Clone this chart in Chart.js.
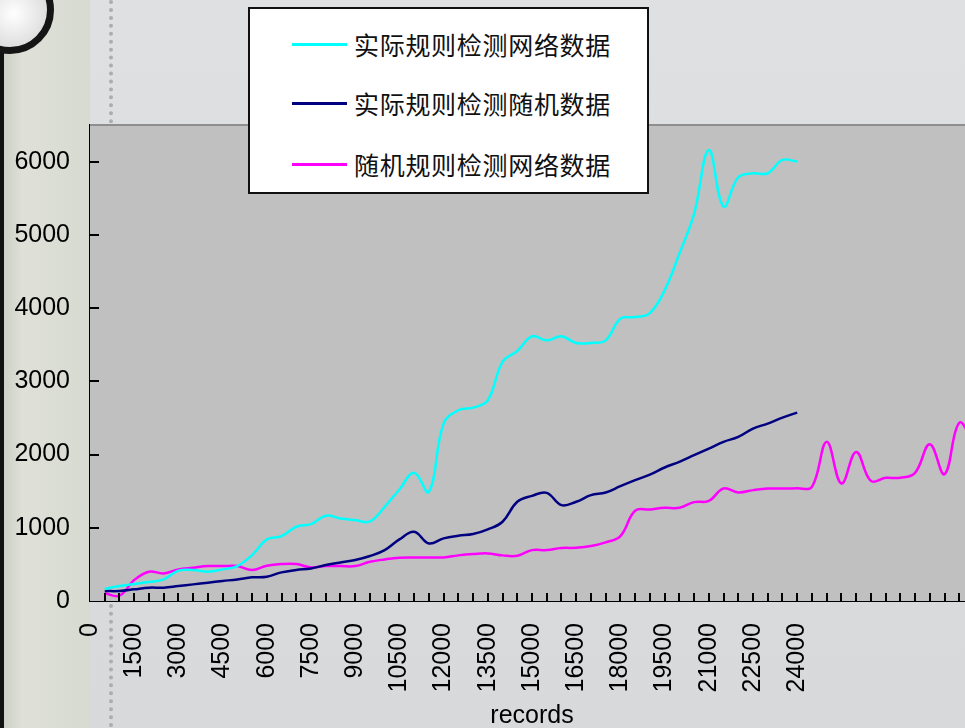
<!DOCTYPE html>
<html>
<head>
<meta charset="utf-8">
<script src="https://cdn.jsdelivr.net/npm/chart.js@4.4.0/dist/chart.umd.min.js"></script>
<style>
  html, body { margin: 0; padding: 0; overflow: hidden; }
  body { width: 965px; height: 728px; position: relative; background: linear-gradient(#dfe0e2, #d8d9db); }
  .strip { position: absolute; left: 0; top: 0; width: 90px; height: 728px;
           background: linear-gradient(90deg, #c9ccc2 0, #dfe1d8 25%, #d7dad1 100%); }
  .edge { position: absolute; left: 0; top: 0; width: 4px; height: 728px; background: #111; }
  .dots { position: absolute; left: 109px; top: 0; height: 728px; border-left: 4px dotted #adadb0; }
  .ring { position: absolute; left: -34px; top: -34px; width: 74px; height: 74px; border-radius: 50%;
          border: 7px solid #151515; background: radial-gradient(circle at 55% 55%, #fff 0, #ddd 60%, #999 100%); }
  #wrap { position: absolute; left: 0; top: 0; width: 976px; height: 728px; }
  #legend { position: absolute; left: 248px; top: 7px; width: 401px; height: 187px; box-sizing: border-box;
            background: #fff; border: 2px solid #111; font-family: "Noto Sans CJK SC", sans-serif; }
  #legend .row { position: absolute; left: 0; height: 30px; }
  #legend .swatch { position: absolute; left: 42px; top: 14px; width: 55px; height: 2.5px; }
  #legend .label { position: absolute; left: 104px; top: 0; line-height: 30px; font-size: 25px;
                   letter-spacing: 0.7px; white-space: nowrap; color: #111; }
</style>
</head>
<body>
<div class="strip"></div>
<div class="edge"></div>
<div class="dots"></div>
<div class="ring"></div>
<div id="wrap"><canvas id="chart" width="976" height="728"></canvas></div>
<div id="legend"></div>
<script>
// x positions (records)
const records = [500, 1000, 1500, 2000, 2500, 3000, 3500, 4000, 4500, 5000,
  5500, 6000, 6500, 7000, 7500, 8000, 8500, 9000, 9500, 10000,
  10500, 11000, 11500, 12000, 12500, 13000, 13500, 14000, 14500, 15000,
  15500, 16000, 16500, 17000, 17500, 18000, 18500, 19000, 19500, 20000,
  20500, 21000, 21500, 22000, 22500, 23000, 23500, 24000, 24500, 25000,
  25500, 26000, 26500, 27000, 27500, 28000, 28500, 29000, 29500, 30000];

const seriesNames = ['实际规则检测网络数据', '实际规则检测随机数据', '随机规则检测网络数据'];
const seriesColors = ['#00ffff', '#000080', '#ff00ff'];

const actualRuleNet = [164, 205, 232, 259, 295, 414, 423, 400, 432, 477,
  627, 841, 886, 1014, 1050, 1164, 1127, 1105, 1086, 1286,
  1523, 1750, 1490, 2423, 2605, 2641, 2741, 3264, 3414, 3614,
  3559, 3614, 3523, 3523, 3559, 3855, 3877, 3932, 4241, 4741,
  5286, 6159, 5386, 5786, 5841, 5841, 6023, 6000];

const actualRuleRandom = [136, 136, 159, 182, 182, 205, 227, 250, 273, 295,
  323, 332, 391, 423, 445, 491, 527, 559, 614, 695,
  841, 945, 786, 855, 891, 914, 977, 1082, 1355, 1436,
  1477, 1309, 1355, 1445, 1482, 1568, 1650, 1727, 1823, 1900,
  1991, 2082, 2173, 2241, 2355, 2423, 2505, 2573];

const randomRuleNet = [105, 73, 286, 400, 377, 432, 455, 477, 477, 477,
  423, 482, 505, 505, 459, 477, 477, 477, 536, 568,
  591, 595, 595, 595, 623, 641, 650, 623, 618, 695,
  695, 723, 727, 750, 800, 886, 1232, 1250, 1273, 1273,
  1350, 1368, 1536, 1482, 1514, 1536, 1536, 1541, 1559, 2173,
  1605, 2036, 1640, 1682, 1682, 1750, 2141, 1732, 2432, 2150];

const yTickValues = [0, 1000, 2000, 3000, 4000, 5000, 6000];
const xMax = 30000, xStep = 500, xLabelStep = 1500, xLabelLast = 24000;
const yMax = 6500;

const toPoints = vals => vals.map((v, i) => ({ x: records[i], y: v }));

const legendBox = document.getElementById('legend');
const rowTops = [20, 79, 140];
seriesNames.forEach((name, i) => {
  const row = document.createElement('div');
  row.className = 'row';
  row.style.top = rowTops[i] + 'px';
  row.innerHTML = '<div class="swatch" style="background:' + seriesColors[i] + '"></div><div class="label">' + name + '</div>';
  legendBox.appendChild(row);
});

const plotFrame = {
  id: 'plotFrame',
  beforeDatasetsDraw(chart) {
    const { ctx, chartArea: a } = chart;
    ctx.save();
    ctx.fillStyle = '#c0c0c0';
    ctx.fillRect(a.left, a.top, a.right - a.left, a.bottom - a.top);
    ctx.fillStyle = '#8e8e8e';
    ctx.fillRect(a.left, a.top - 1, a.right - a.left, 2);
    ctx.restore();
  },
  afterDatasetsDraw(chart) {
    const { ctx, chartArea: a, scales } = chart;
    ctx.save();
    ctx.strokeStyle = '#000';
    ctx.lineWidth = 2;
    ctx.beginPath();
    scales.x.ticks.forEach(t => {
      const px = Math.round(scales.x.getPixelForValue(t.value));
      if (px <= a.left + 1 || px > a.right) return;
      ctx.moveTo(px, a.bottom);
      ctx.lineTo(px, a.bottom - 8);
    });
    scales.y.ticks.forEach(t => {
      if (t.value === 0) return;
      const py = Math.round(scales.y.getPixelForValue(t.value));
      ctx.moveTo(a.left, py);
      ctx.lineTo(a.left + 9, py);
    });
    ctx.stroke();
    ctx.restore();
  }
};

const axisFont = { family: '"Liberation Sans", Arial, sans-serif', size: 25 };
const noPad = s => { s.paddingLeft = 0; s.paddingRight = 0; s.paddingTop = 0; s.paddingBottom = 0; };

new Chart(document.getElementById('chart'), {
  type: 'line',
  data: {
    datasets: [
      { label: seriesNames[0], data: toPoints(actualRuleNet), borderColor: seriesColors[0] },
      { label: seriesNames[1], data: toPoints(actualRuleRandom), borderColor: seriesColors[1] },
      { label: seriesNames[2], data: toPoints(randomRuleNet), borderColor: seriesColors[2] }
    ]
  },
  options: {
    responsive: false,
    devicePixelRatio: 1,
    animation: false,
    layout: { padding: { top: 125, right: 2, left: 0, bottom: 0 } },
    elements: {
      line: { borderWidth: 2.5, tension: 0.4, fill: false },
      point: { radius: 0 }
    },
    plugins: { legend: { display: false }, tooltip: { enabled: false } },
    scales: {
      x: {
        type: 'linear',
        min: 0,
        max: xMax,
        grid: { display: false, drawTicks: false },
        border: { display: true, color: '#000', width: 2 },
        ticks: {
          stepSize: xStep,
          autoSkip: false,
          minRotation: 90,
          maxRotation: 90,
          padding: 22,
          color: '#000',
          font: axisFont,
          callback: v => (v % xLabelStep === 0 && v <= xLabelLast) ? String(v) : ''
        },
        title: { display: true, text: 'records', color: '#000', font: { family: axisFont.family, size: 25 }, padding: { top: 0, bottom: -3 } },
        afterFit: s => { s.height = 127; noPad(s); }
      },
      y: {
        min: 0,
        max: yMax,
        grid: { display: false, drawTicks: false },
        border: { display: true, color: '#000', width: 2 },
        afterBuildTicks: s => { s.ticks = yTickValues.map(v => ({ value: v })); },
        ticks: {
          padding: 20,
          color: '#000',
          font: axisFont,
          callback: v => String(v)
        },
        afterFit: s => { s.width = 90; noPad(s); }
      }
    }
  },
  plugins: [plotFrame]
});
</script>
</body>
</html>
